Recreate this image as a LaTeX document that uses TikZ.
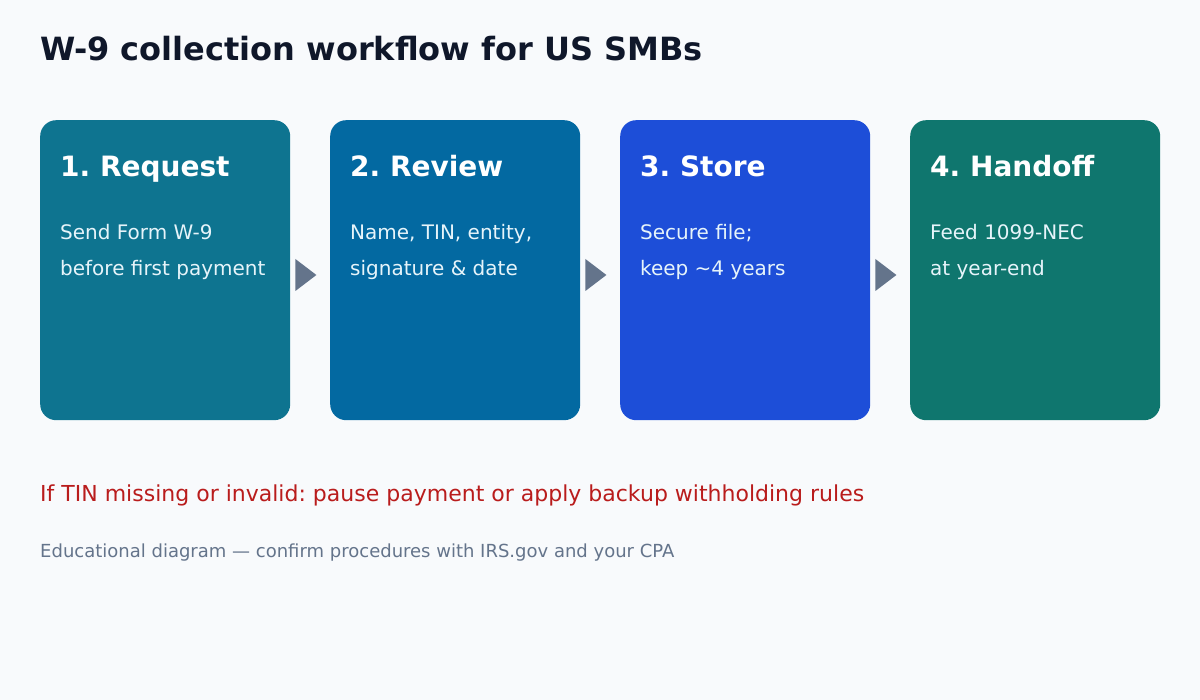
\documentclass[tikz,border=0pt]{standalone}
\usepackage{fontspec}
\setmainfont{DejaVu Sans}
\usetikzlibrary{calc}
\definecolor{bg}{HTML}{F8FAFC}
\definecolor{titlec}{HTML}{0F172A}
\definecolor{cA}{HTML}{0E7490}
\definecolor{cB}{HTML}{0369A1}
\definecolor{cC}{HTML}{1D4ED8}
\definecolor{cD}{HTML}{0F766E}
\definecolor{arrowc}{HTML}{64748B}
\definecolor{warnc}{HTML}{B91C1C}
\definecolor{footc}{HTML}{64748B}
\definecolor{bodyc}{HTML}{E6F4FA}
\tikzset{
  x=1pt,y=-1pt,
  stepbox/.style={minimum width=250pt,minimum height=300pt,rounded corners=16pt,inner sep=0pt,anchor=north west},
  headtxt/.style={anchor=base west,inner sep=0pt,text=white,font=\bfseries\fontsize{28}{30}\selectfont},
  bodytxt/.style={anchor=base west,inner sep=0pt,text=bodyc,font=\fontsize{20}{22}\selectfont},
}
\begin{document}
\frenchspacing
\begin{tikzpicture}
\fill[bg] (0,0) rectangle (1200,700);
\useasboundingbox (0,0) rectangle (1200,700);
\node[anchor=base west,inner sep=0pt,text=titlec,font=\bfseries\fontsize{32}{36}\selectfont] (title) at (40,61) {W-9 collection workflow for US SMBs};

\node[stepbox,fill=cA] (b1) at (40,120) {};
\node[stepbox,fill=cB] (b2) at (330,120) {};
\node[stepbox,fill=cC] (b3) at (620,120) {};
\node[stepbox,fill=cD] (b4) at (910,120) {};

\foreach \b/\h/\la/\lb in {b1/1. Request/Send Form W-9/before first payment,
                           b2/2. Review/{Name, TIN, entity,}/signature \& date,
                           b3/3. Store/Secure file;/keep \textasciitilde4 years,
                           b4/4. Handoff/Feed 1099-NEC/at year-end}{
  \node[headtxt] (\b h) at ($(\b.north west)+(20,57)$) {\h};
  \node[bodytxt] (\b l1) at ($(\b.north west)+(20,120)$) {\la};
  \node[bodytxt] (\b l2) at ($(\b.north west)+(20,156)$) {\lb};
}

\foreach \a in {b1,b2,b3}{
  \coordinate (\a t1) at ($(\a.north east)+(5,139)$);
  \coordinate (\a t2) at ($(\a.north east)+(26,155)$);
  \coordinate (\a t3) at ($(\a.north east)+(5,171)$);
  \fill[arrowc] (\a t1) -- (\a t2) -- (\a t3) -- cycle;
}

\node[anchor=base west,inner sep=0pt,text=warnc,font=\fontsize{22}{24}\selectfont] (warn) at (40,501) {If TIN missing or invalid: pause payment or apply backup withholding rules};
\node[anchor=base west,inner sep=0pt,text=footc,font=\fontsize{18}{20}\selectfont] (foot) at (40,557) {Educational diagram — confirm procedures with IRS.gov and your CPA};
\end{tikzpicture}
\end{document}
